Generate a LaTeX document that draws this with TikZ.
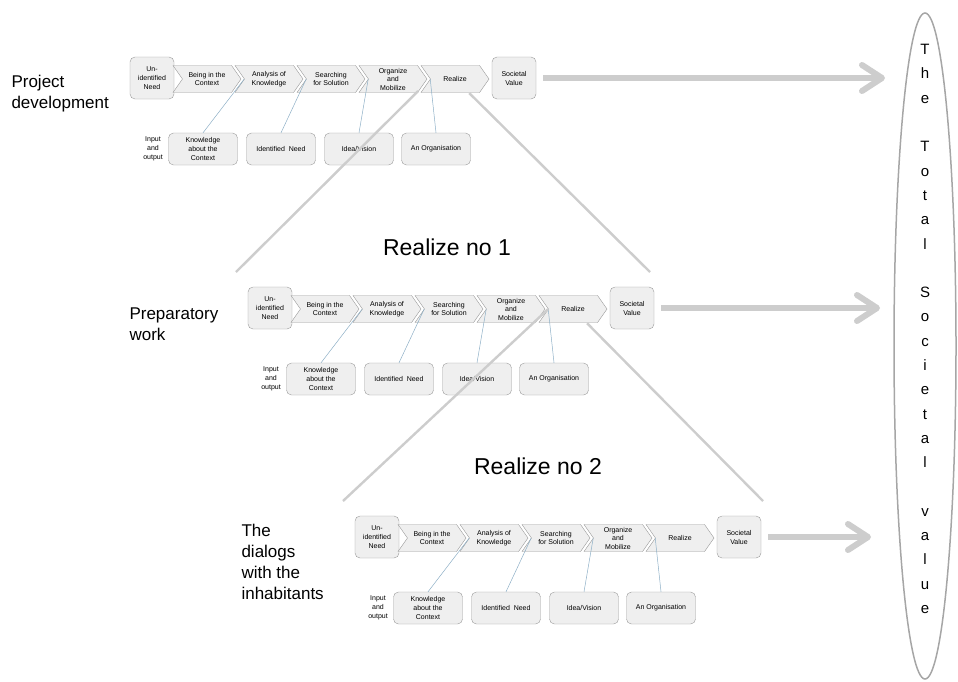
\documentclass[tikz,border=0pt]{standalone}
\usepackage{fontspec}
\setmainfont{Liberation Sans}
\usetikzlibrary{shapes.symbols,shapes.geometric,arrows.meta}

\definecolor{boxfill}{HTML}{EFEFEF}
\definecolor{boxline}{HTML}{9A9A9A}
\definecolor{zoomgray}{HTML}{CDCDCD}
\definecolor{linkblue}{HTML}{8DAFC6}
\definecolor{ovalgray}{HTML}{A6A6A6}

\tikzset{
  tappa/.style={signal, signal to=east, signal from=west, signal pointer angle=110,
    draw=boxline, fill=boxfill, minimum width=68pt, minimum height=27pt,
    inner sep=0pt, align=center, font=\fontsize{7}{8.5}\selectfont},
  scatola/.style={rounded corners=5pt, draw=boxline, fill=boxfill,
    minimum width=44pt, minimum height=42pt, inner sep=1pt, align=center,
    font=\fontsize{7}{9}\selectfont},
  esito/.style={scatola, minimum width=69pt, minimum height=32pt},
  legame/.style={draw=linkblue, line width=0.5pt},
  lente/.style={draw=zoomgray, line width=2.4pt},
  freccia/.style={draw=zoomgray, line width=6pt, -{Straight Barb[length=20pt,width=26pt,round]}},
  etichetta/.style={anchor=west, align=left, font=\fontsize{17}{21}\selectfont},
  titolo/.style={font=\fontsize{23}{27}\selectfont}
}

\begin{document}
\begin{tikzpicture}[x=1pt,y=-1pt]
\useasboundingbox (0,0) rectangle (958,681);

% le tre catene
\foreach \r/\x/\y in {r1/130/57, r2/248/287, r3/355/516}{
  \begin{scope}[shift={(\x,\y)}, name prefix=\r-]
    \node[scatola] (un) at (22,21) {Un-\\identified\\Need};
    \node[tappa] (c1) at (77,22) {Being in the\\Context};
    \node[tappa] (c2) at (139,22) {Analysis of\\Knowledge};
    \node[tappa] (c3) at (201,22) {Searching\\for Solution};
    \node[tappa] (c4) at (263,22) {Organize\\and\\Mobilize};
    \node[tappa] (c5) at (325,22) {Realize};
    \node[scatola] (sv) at (384,21) {Societal\\Value};

    \node[font=\fontsize{7}{9}\selectfont, align=center] (io) at (23,92) {Input\\and\\output};
    \node[esito] (k1) at (73,92) {Knowledge\\about the\\Context};
    \node[esito] (k2) at (151,92) {Identified~ Need};
    \node[esito] (k3) at (229,92) {Idea/Vision};
    \node[esito] (k4) at (306,92) {An Organisation};

    \draw[legame] (k1.north) -- (c2.west);
    \draw[legame] (k2.north) -- (c3.west);
    \draw[legame] (k3.north) -- (c4.west);
    \draw[legame] (k4.north) -- (c5.west);
  \end{scope}
}

% ingrandimenti di Realize
\coordinate (a1) at (236,272);
\coordinate (b1) at (650,272);
\coordinate (a2) at (343,501);
\coordinate (b2) at (763,501);
\draw[lente, shorten <=17pt] (r1-c5.west) -- (a1);
\draw[lente, shorten <=20pt] (r1-c5.center) -- (b1);
\draw[lente] (r2-c5.west) -- (a2);
\draw[lente, shorten <=20pt] (r2-c5.center) -- (b2);

\node[titolo] (rn1) at (447,247) {Realize no 1};
\node[titolo] (rn2) at (538,466) {Realize no 2};

% etichette a sinistra
\node[etichetta] (pd) at (8,94) {Project\\development};
\node[etichetta] (pw) at (126,324) {Preparatory\\work};
\node[etichetta] (dl) at (238,562) {The\\dialogs\\with the\\inhabitants};

% valore totale
\node[ellipse, draw=ovalgray, line width=1.5pt, minimum width=62pt, minimum height=666pt] (ovale) at (925,346) {};
\node[align=center, font=\fontsize{15}{24.3}\selectfont] (tv) at (925,329)
  {T\\h\\e\\~\\T\\o\\t\\a\\l\\~\\S\\o\\c\\i\\e\\t\\a\\l\\~\\v\\a\\l\\u\\e};

\coordinate (f1) at (885,0);
\coordinate (f2) at (880,0);
\coordinate (f3) at (871,0);
\draw[freccia, shorten <=7pt] (r1-sv.east) -- (r1-sv.east -| f1);
\draw[freccia, shorten <=7pt] (r2-sv.east) -- (r2-sv.east -| f2);
\draw[freccia, shorten <=7pt] (r3-sv.east) -- (r3-sv.east -| f3);

\end{tikzpicture}
\end{document}
